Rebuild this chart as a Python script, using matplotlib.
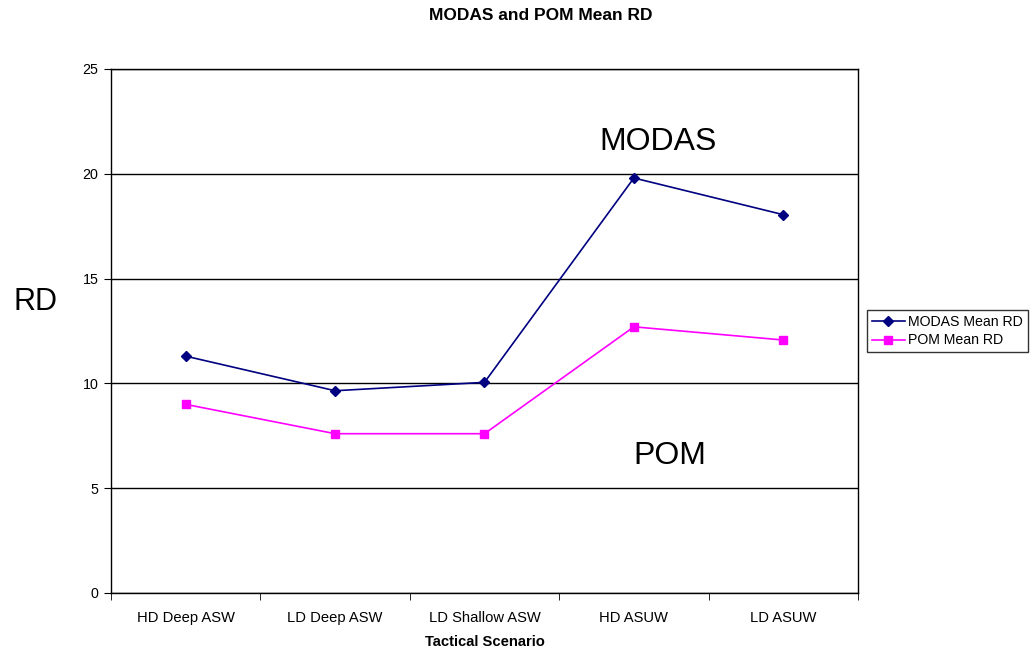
import matplotlib
matplotlib.use("Agg")
import matplotlib.pyplot as plt
import numpy as np

plt.rcParams['font.family'] = ['Liberation Sans', 'DejaVu Sans']

categories = ["HD Deep ASW", "LD Deep ASW", "LD Shallow ASW", "HD ASUW", "LD ASUW"]
modas = [11.3, 9.65, 10.05, 19.8, 18.05]
pom = [9.0, 7.6, 7.6, 12.7, 12.07]

fig = plt.figure(figsize=(10.32, 6.52), dpi=100)
ax = fig.add_axes([111/1032, 59/652, 747/1032, 524/652])

x = np.arange(len(categories))
ax.plot(x, modas, color='#000080', marker='D', markersize=5, linewidth=1.2, label='MODAS Mean RD')
ax.plot(x, pom, color='#FF00FF', marker='s', markersize=6, linewidth=1.2, label='POM Mean RD')

ax.set_xlim(-0.5, len(categories) - 0.5)
ax.set_ylim(0, 25)
ax.set_yticks([0, 5, 10, 15, 20, 25])
ax.set_xticks(x)
ax.set_xticklabels(categories, fontsize=10.6)
ax.set_xticks(np.arange(-0.5, len(categories)), minor=True)
ax.tick_params(axis='x', which='major', length=0, pad=13)
ax.tick_params(axis='x', which='minor', length=5, direction='out', color='black')
ax.tick_params(axis='y', length=5, direction='out', labelsize=10.3, pad=4)
ax.yaxis.grid(True, color='black', linewidth=1)
ax.set_axisbelow(True)
for s in ax.spines.values():
    s.set_color('black')
    s.set_linewidth(1)

ax.set_xlabel('Tactical Scenario', fontsize=10.6, fontweight='bold', labelpad=7)
fig.text(35/1032, 1 - 302/652, 'RD', fontsize=22, ha='center', va='center')
fig.text(541/1032, 1 - 16/652, 'MODAS and POM Mean RD', fontsize=12.5, fontweight='bold', ha='center', va='center')

ax.text(3.16, 21.5, 'MODAS', fontsize=23, ha='center', va='center')
ax.text(3.24, 6.55, 'POM', fontsize=23, ha='center', va='center')

leg = ax.legend(loc='center left', bbox_to_anchor=(1.012, 0.5), fontsize=10.2, frameon=True,
                fancybox=False, edgecolor='black', borderpad=0.35, handlelength=2.3,
                labelspacing=0.35, handletextpad=0.25, borderaxespad=0)
leg.get_frame().set_linewidth(1)

fig.savefig('out.png', dpi=100)
